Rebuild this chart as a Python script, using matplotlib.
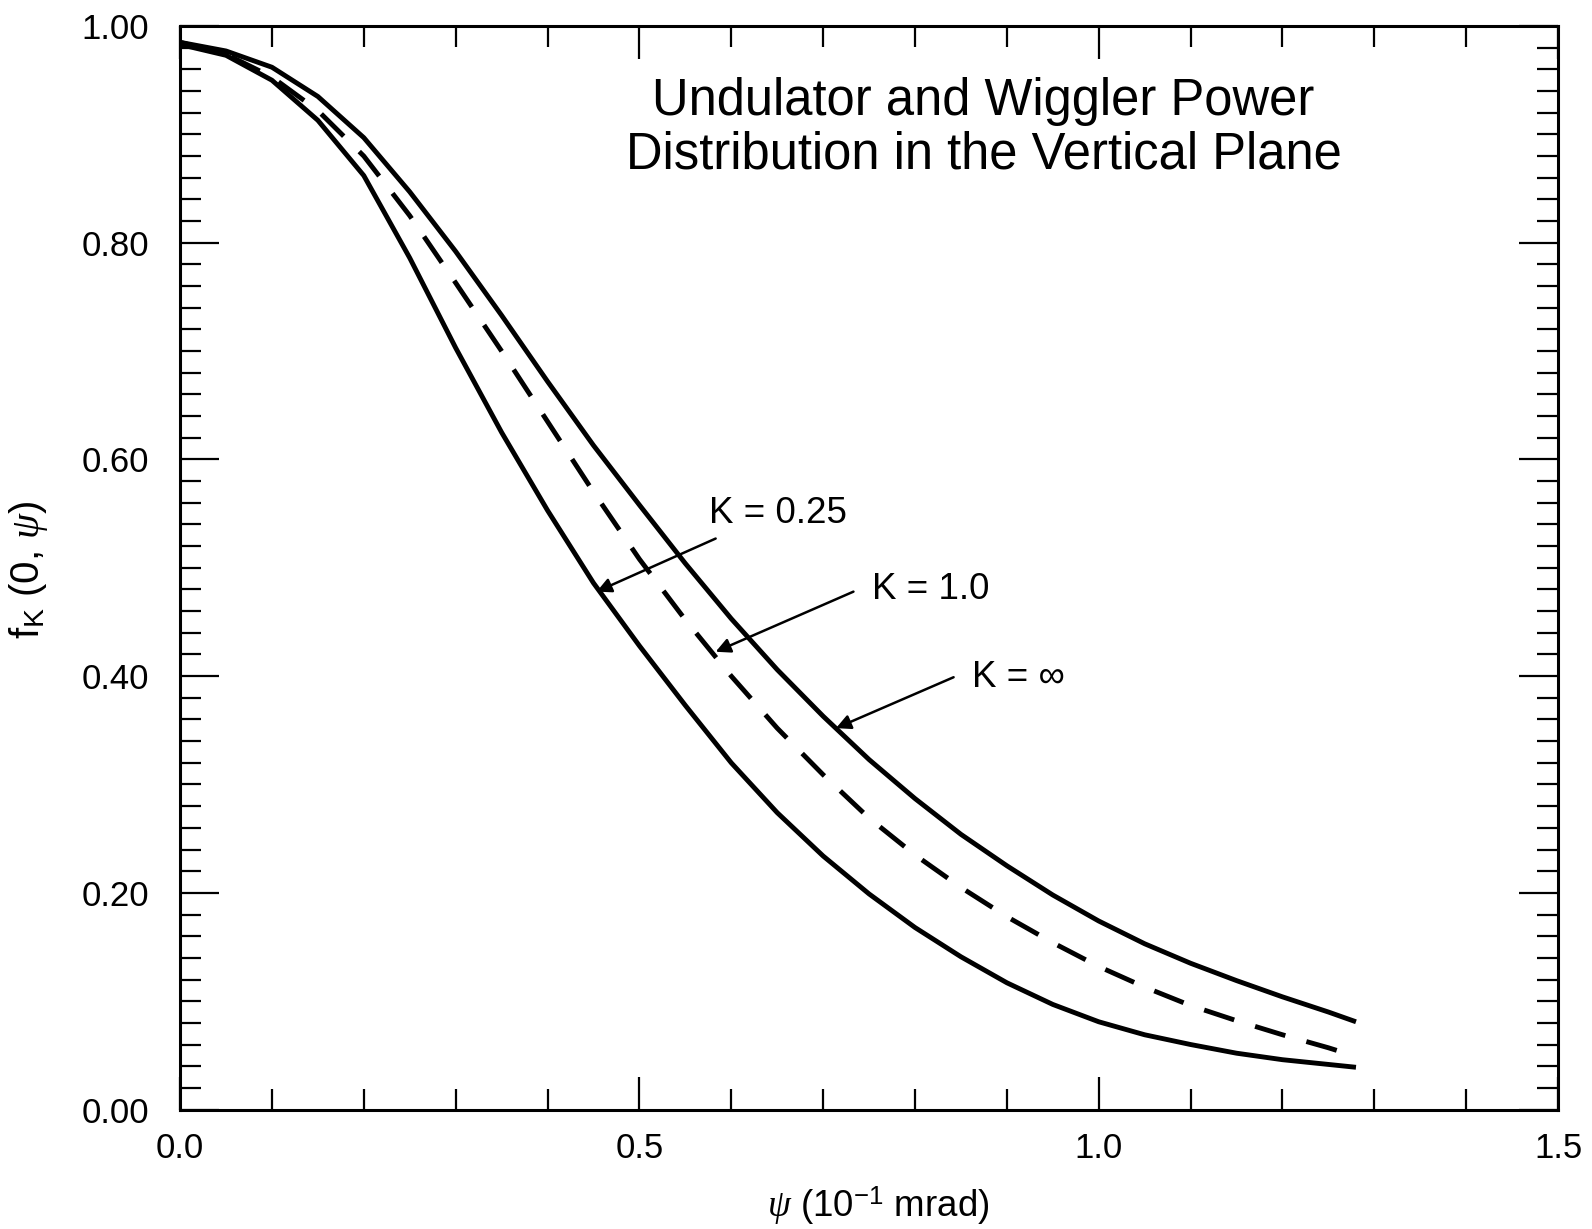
import numpy as np
import matplotlib.pyplot as plt
from matplotlib.ticker import MultipleLocator, FormatStrFormatter

plt.rcParams['font.family'] = ['Liberation Sans', 'DejaVu Sans']
plt.rcParams['mathtext.fontset'] = 'custom'
plt.rcParams['mathtext.rm'] = 'Liberation Sans'
plt.rcParams['mathtext.it'] = 'Liberation Serif:italic'

## curves: psi (10^-1 mrad) vs f_K(0, psi)
psi_inf = [0.0, 0.05, 0.10, 0.15, 0.20, 0.25, 0.30, 0.35, 0.40, 0.45, 0.50, 0.55,
           0.60, 0.65, 0.70, 0.75, 0.80, 0.85, 0.90, 0.95, 1.00, 1.05, 1.10, 1.15,
           1.20, 1.25, 1.28]
f_inf = [0.985, 0.977, 0.962, 0.935, 0.897, 0.847, 0.792, 0.733, 0.672, 0.613, 0.558, 0.504,
         0.453, 0.406, 0.363, 0.323, 0.287, 0.254, 0.225, 0.198, 0.174, 0.153, 0.135, 0.119,
         0.104, 0.090, 0.081]

psi_k1 = [0.0, 0.05, 0.10, 0.15, 0.20, 0.25, 0.30, 0.35, 0.40, 0.45, 0.50, 0.55,
          0.60, 0.65, 0.70, 0.75, 0.80, 0.85, 0.90, 0.95, 1.00, 1.05, 1.10, 1.15,
          1.20, 1.25, 1.28]
f_k1 = [0.985, 0.974, 0.953, 0.922, 0.880, 0.825, 0.763, 0.700, 0.635, 0.570, 0.508, 0.452,
        0.400, 0.352, 0.309, 0.269, 0.235, 0.205, 0.178, 0.154, 0.132, 0.113, 0.096, 0.082,
        0.069, 0.057, 0.049]

psi_k025 = [0.0, 0.05, 0.10, 0.15, 0.20, 0.25, 0.30, 0.35, 0.40, 0.45, 0.50, 0.55,
            0.60, 0.65, 0.70, 0.75, 0.80, 0.85, 0.90, 0.95, 1.00, 1.05, 1.10, 1.15,
            1.20, 1.28]
f_k025 = [0.983, 0.973, 0.950, 0.913, 0.862, 0.786, 0.703, 0.625, 0.553, 0.486, 0.428, 0.373,
          0.320, 0.274, 0.234, 0.199, 0.168, 0.141, 0.117, 0.097, 0.081, 0.069, 0.060, 0.052,
          0.046, 0.039]

## labels: text, text anchor, arrow tail, arrow tip
k_labels = ['K = 0.25', 'K = 1.0', 'K = \u221e']
k_text_xy = [(0.576, 0.550), (0.753, 0.480), (0.862, 0.399)]
k_tail_xy = [(0.583, 0.527), (0.733, 0.478), (0.842, 0.399)]
k_tip_xy = [(0.4535, 0.478), (0.583, 0.4225), (0.714, 0.352)]

fig = plt.figure(figsize=(15.92, 12.29), dpi=100)
ax = fig.add_axes([0.1131, 0.0972, 0.8656, 0.8816])

ax.plot(psi_inf, f_inf, color='black', lw=3.5, solid_capstyle='butt', solid_joinstyle='round')
ax.plot(psi_k1, f_k1, color='black', lw=3.5, dashes=(6.5, 4.5))
ax.plot(psi_k025, f_k025, color='black', lw=3.5, solid_capstyle='butt', solid_joinstyle='round')

ax.set_xlim(0, 1.5)
ax.set_ylim(0, 1.0)
ax.xaxis.set_major_locator(MultipleLocator(0.5))
ax.xaxis.set_minor_locator(MultipleLocator(0.1))
ax.yaxis.set_major_locator(MultipleLocator(0.2))
ax.yaxis.set_minor_locator(MultipleLocator(0.02))
ax.xaxis.set_major_formatter(FormatStrFormatter('%.1f'))
ax.yaxis.set_major_formatter(FormatStrFormatter('%.2f'))

ax.tick_params(which='both', direction='in', top=True, right=True, width=1.6,
               labelsize=25, colors='black')
ax.tick_params(axis='y', which='major', length=28, pad=22)
ax.tick_params(axis='x', which='major', length=24, pad=16)
ax.tick_params(which='minor', length=15)
for s in ax.spines.values():
    s.set_linewidth(2.2)

ax.text(0.583, 0.906, 'Undulator and Wiggler Power\nDistribution in the Vertical Plane',
        transform=ax.transAxes, ha='center', va='center', fontsize=36.5, linespacing=1.12)

for lab, txy, tail, tip in zip(k_labels, k_text_xy, k_tail_xy, k_tip_xy):
    ax.text(txy[0], txy[1], lab, fontsize=26.5, ha='left', va='center')
    ax.annotate('', xy=tip, xytext=tail,
                arrowprops=dict(arrowstyle='-|>', color='black', lw=1.8,
                                mutation_scale=22, shrinkA=0, shrinkB=0))

fig.text(0.5517, 0.019, r'$\psi$ (10$^{-1}$ mrad)', ha='center', va='center', fontsize=26.5)
fig.text(0.0176, 0.536, r'$\mathrm{f}_\mathrm{K}$ (0, $\psi$)', ha='center', va='center',
         rotation=90, fontsize=29)

fig.savefig('out.png', dpi=100)
